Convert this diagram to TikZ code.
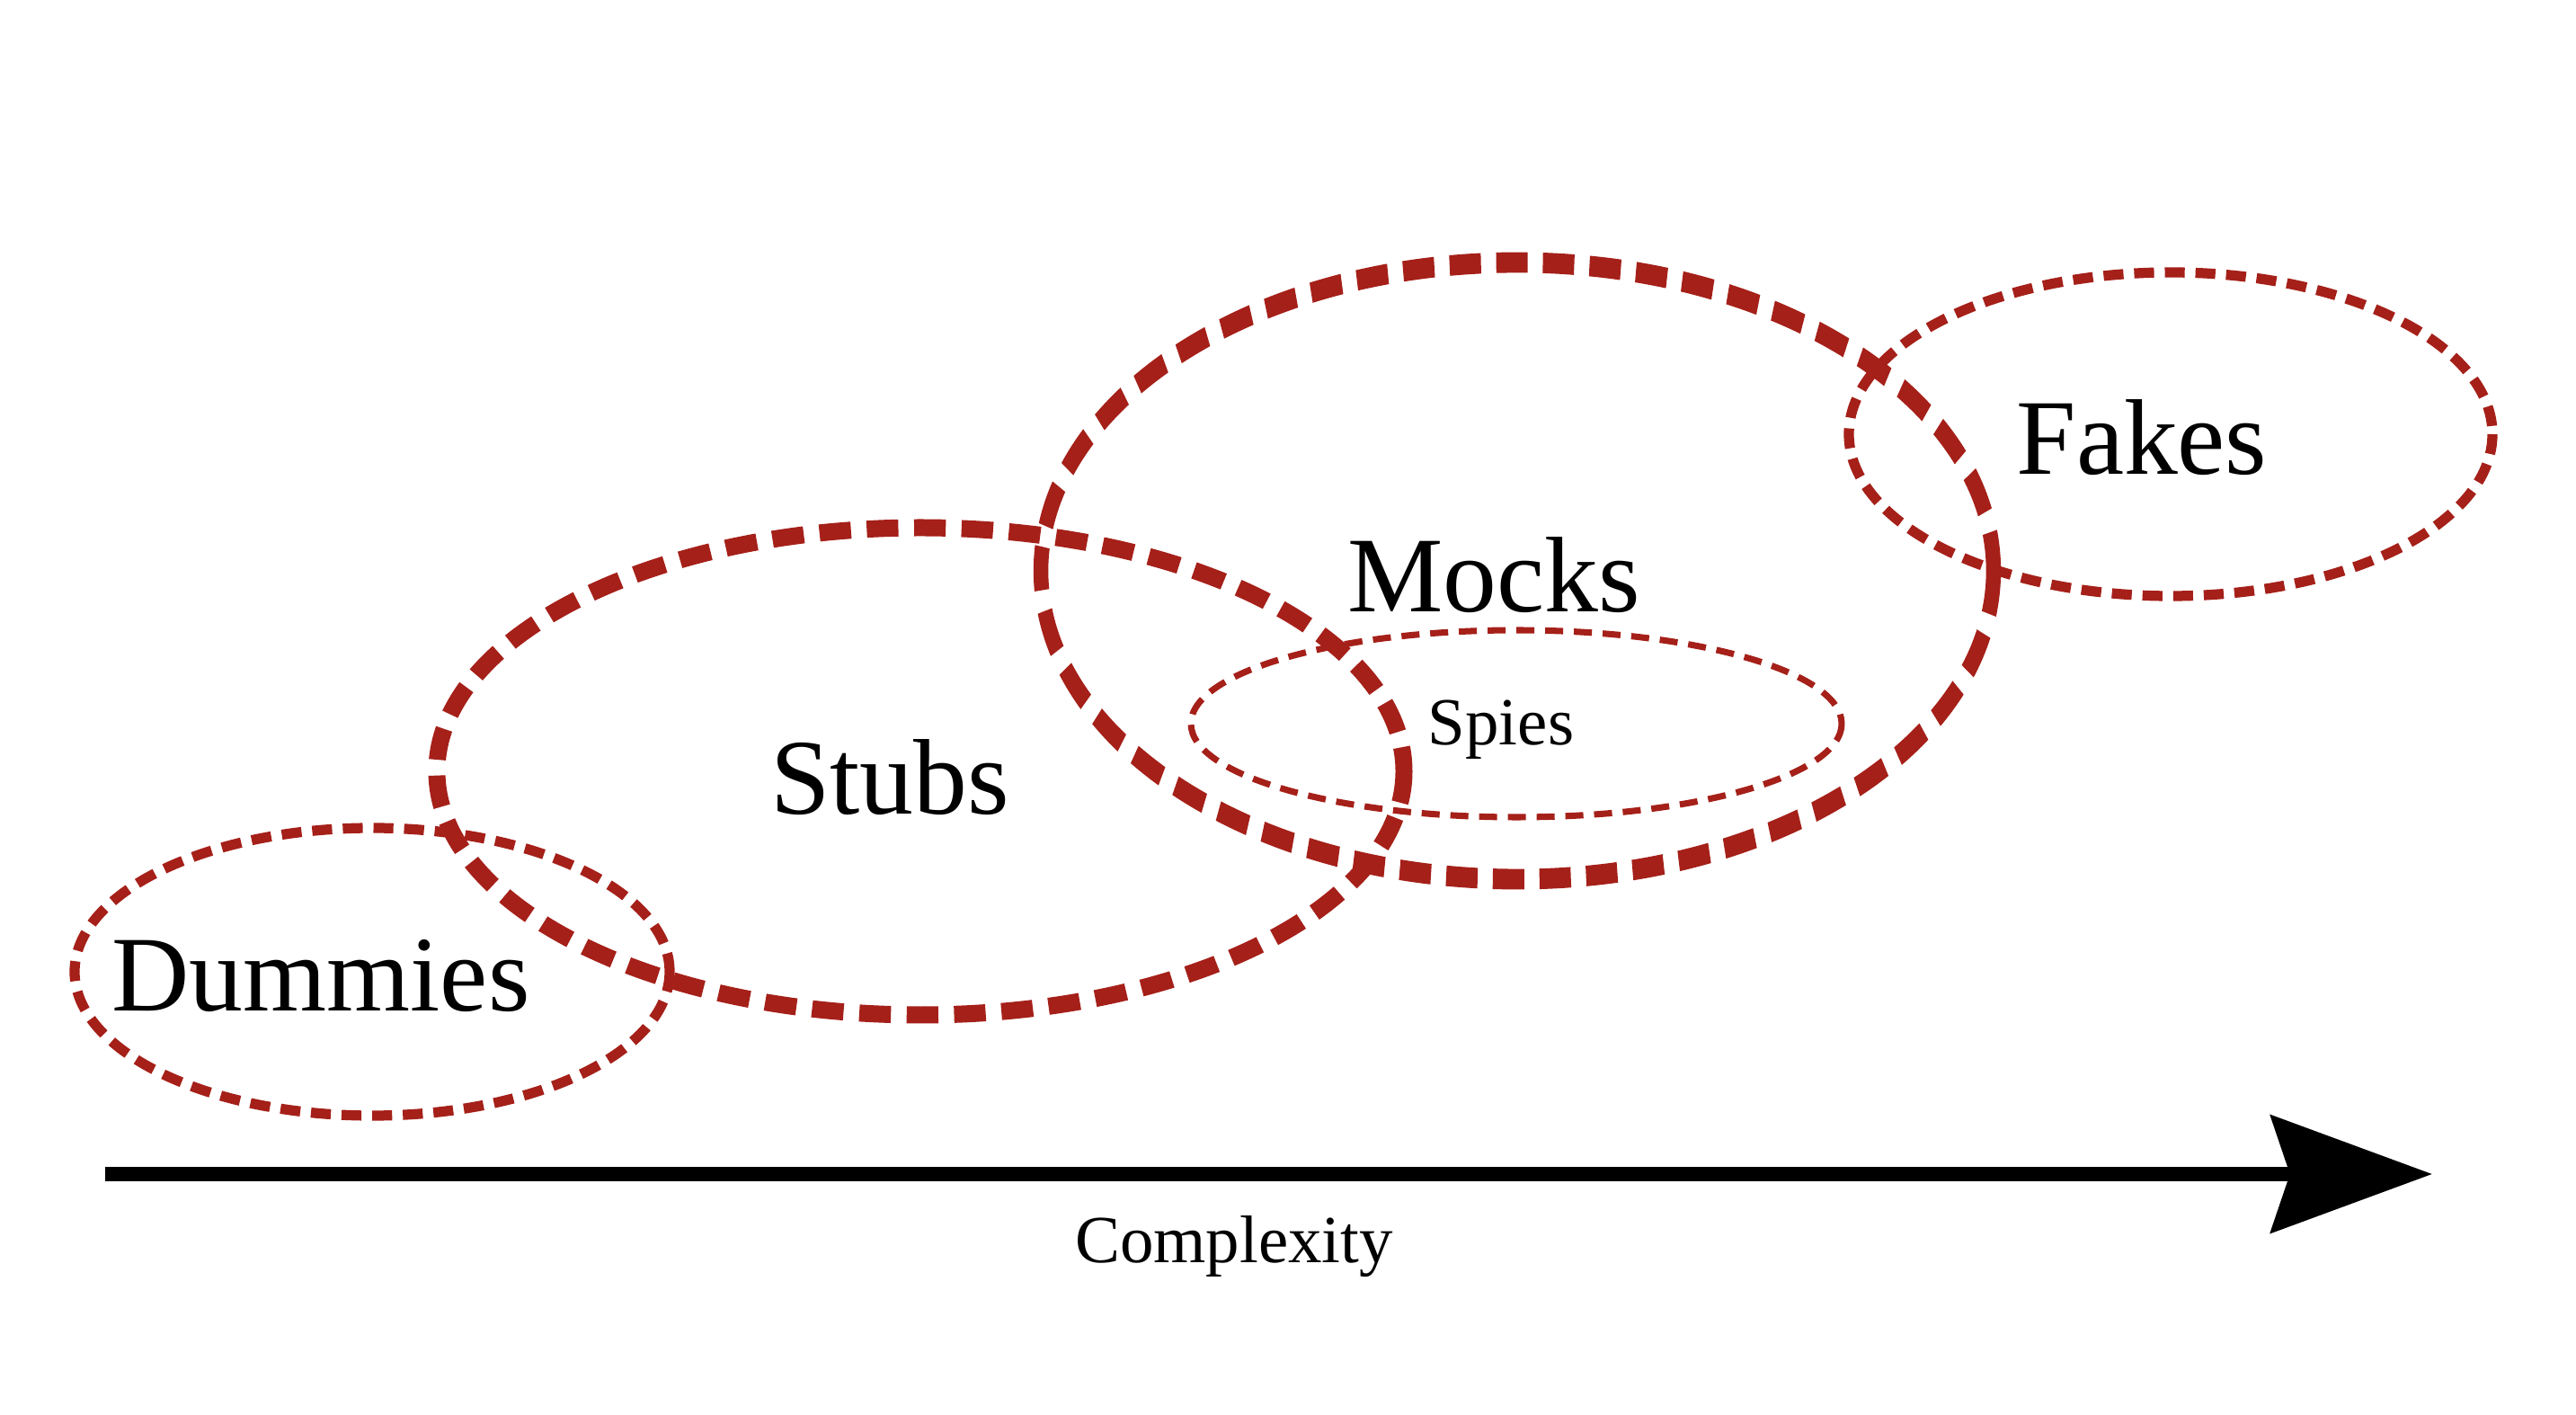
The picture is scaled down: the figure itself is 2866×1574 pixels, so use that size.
\documentclass[tikz,border=0pt]{standalone}
\usepackage{fontspec}
\setmainfont{Liberation Serif}
\usetikzlibrary{arrows.meta}
\definecolor{ringred}{RGB}{165,32,25}

\begin{document}
\begin{tikzpicture}[x=0.01cm,y=-0.01cm,
	ring/.style={draw=ringred},
	thinring/.style={ring,line width=3.2pt,dash pattern=on 6.3pt off 3.4pt},
	thickring/.style={ring,line width=5.4pt,dash pattern=on 10pt off 5pt},
	big/.style={inner sep=0pt,anchor=base,font=\fontsize{34}{40}\selectfont},
	small/.style={inner sep=0pt,anchor=base,font=\fontsize{21.3}{25}\selectfont}]
		\useasboundingbox (0,0) rectangle (2866,1574);
		% the rings
		\draw[thinring] (414,1081) ellipse [x radius=331,y radius=160];
		\draw[thickring] (1024,858) ellipse [x radius=538,y radius=271];
		\begin{scope}[transform canvas={shift={(1688,635)},xscale=0.72}]
		\draw[ring,line width=6.5pt,dash pattern=on 13.8pt off 6.7pt] (0,0) ellipse [x radius=736,y radius=343];
		\end{scope}
		\draw[thinring] (2415,483) ellipse [x radius=358,y radius=180];
		\draw[ring,line width=2pt,dash pattern=on 5.7pt off 3.4pt] (1687,805) ellipse [x radius=362,y radius=104];
		% labels
		\node[big] (dummies) at (357,1125) {Dummies};
		\node[big] (stubs) at (990,906) {Stubs};
		\node[big] (mocks) at (1662,681) {Mocks};
		\node[big] (fakes) at (2383,528) {Fakes};
		\node[small] (spies) at (1670,829) {Spies};
		% axis
		\coordinate (start) at (117,1306);
		\coordinate (tip) at (2706,1306);
		\draw[line width=4.3pt,-{Stealth[length=51pt,width=37pt,inset=6pt]}] (start) -- (tip);
		\node[small] (complexity) at (1373,1405) {Complexity};
	   \end{tikzpicture}
\end{document}
